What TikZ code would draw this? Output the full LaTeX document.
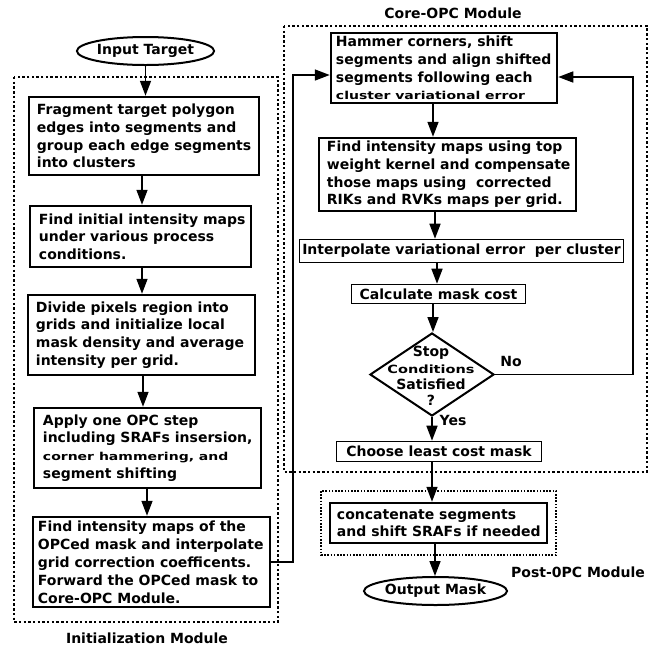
\documentclass[tikz,border=0pt]{standalone}
\usepackage{fontspec}
\setmainfont{DejaVu Sans}
\usepackage{graphicx}
\usetikzlibrary{arrows.meta,shapes.geometric}
\newcommand\bfont{\fontsize{14}{17.7}\selectfont\bfseries}
\newcommand\sqz[1]{\scalebox{1}[0.78]{#1}}
\begin{document}
\begin{tikzpicture}[x=1pt,y=-1pt,
  box/.style={draw, line width=2.5pt, inner sep=0pt},
  tbox/.style={draw, line width=1.6pt, align=center, inner sep=0pt, font=\bfont},
  txt/.style={anchor=west, align=left, inner sep=0pt, font=\bfont},
  ell/.style={draw, ellipse, line width=2pt, inner sep=0pt, font=\bfont},
  lab/.style={inner sep=0pt, font=\bfont},
  arr/.style={line width=1.6pt, -{Triangle[length=15pt,width=11pt]}},
  modbox/.style={line width=2.4pt, dash pattern=on 2.4pt off 2.3pt},
  postbox/.style={line width=1.6pt, dash pattern=on 1.6pt off 1.6pt}]
\useasboundingbox (0,0) rectangle (662,649);

% module frames
\draw[modbox] (14,77) rectangle (278,622);
\draw[modbox] (284,26) rectangle (647,472);
\draw[postbox] (321,491) rectangle (556,555);

% initialization module
\node[ell, minimum width=135pt, minimum height=28pt] (in) at (145.5,51) {Input Target};
\node[box, minimum width=230pt, minimum height=78pt] (b1) at (144,136) {};
\node[txt] (t1) at ([xshift=9pt]b1.west)
  {Fragment target polygon\\edges into segments and\\group each edge segments\\into clusters};
\node[box, minimum width=221pt, minimum height=61pt] (b2) at (140.5,236.5) {};
\node[txt] (t2) at ([xshift=10pt]b2.west)
  {Find initial intensity maps\\under various process\\conditions.};
\node[box, minimum width=227pt, minimum height=80pt] (b3) at (141.5,335) {};
\node[txt] (t3) at ([xshift=9pt]b3.west)
  {Divide pixels region into\\grids and initialize local\\mask density and average\\intensity per grid.};
\node[box, minimum width=227pt, minimum height=80pt] (b4) at (147.5,448) {};
\node[txt] (t4) at ([xshift=10pt]b4.west)
  {Apply one OPC step\\including SRAFs insersion,\\\sqz{corner hammering, and}\\segment shifting};
\node[box, minimum width=237pt, minimum height=90pt] (b5) at (151.5,562) {};
\node[txt, font=\fontsize{14}{17.9}\selectfont\bfseries] (t5) at ([xshift=6pt]b5.west)
  {Find intensity maps of the\\OPCed mask and interpolate\\grid correction coefficents.\\Forward the OPCed mask to\\Core-OPC Module.};

% core module
\node[box, minimum width=226pt, minimum height=70pt] (hm) at (444,68) {};
\node[txt] (th) at ([xshift=6pt]hm.west)
  {Hammer corners, shift\\segments and align shifted\\segments following each\\\sqz{cluster variational error}};
\node[box, minimum width=257pt, minimum height=73pt] (fi) at (447.5,174.5) {};
\node[txt] (tf) at ([xshift=9pt]fi.west)
  {Find intensity maps using top\\weight kernel and compensate\\those maps using\ \ corrected\\RIKs and RVKs maps per grid.};
\node[tbox, minimum width=324pt, minimum height=23pt] (ip) at (461.5,251)
  {Interpolate variational error\ \ per cluster};
\node[tbox, minimum width=174pt, minimum height=19pt] (cm) at (438.5,294) {Calculate mask cost};
\node[draw, diamond, line width=2pt, minimum width=124pt, minimum height=83pt, inner sep=0pt] (dia) at (432,374.5) {};
\node[lab, align=center, font=\fontsize{14}{16.3}\selectfont\bfseries] (dtx) at (431,376)
  {Stop\\\sqz{\fontsize{14.5}{16}\selectfont Conditions}\\Satisfied\\?};
\node[tbox, minimum width=205pt, minimum height=20pt] (ch) at (439,451.5) {Choose least cost mask};

% post module
\node[box, minimum width=217pt, minimum height=40pt] (cc) at (438.5,523) {};
\node[txt, font=\fontsize{14}{17.5}\selectfont\bfseries] (tc) at ([xshift=8pt]cc.west)
  {concatenate segments\\and shift SRAFs if needed};
\node[ell, minimum width=131pt, minimum height=28pt] (out) at (435.5,591) {Output Mask};

% labels
\node[lab] (lcore) at (453,13) {Core-OPC Module};
\node[lab] (linit) at (147,638) {Initialization Module};
\node[lab] (lpost) at (578,572) {Post-0PC Module};
\node[lab] (lno) at (511,361) {No};
\node[lab] (lyes) at (453,420) {Yes};

% connectors
\draw[arr] (in.south) -- (in.south |- b1.north);
\draw[arr] (142,176) coordinate (a1) -- (a1 |- b2.north);
\draw[arr] (142,268) coordinate (a2) -- (a2 |- b3.north);
\draw[arr] (143,376) coordinate (a3) -- (a3 |- b4.north);
\draw[arr] (147,489) coordinate (a4) -- (a4 |- b5.north);

\coordinate (j1) at (293,75);
\draw[arr] (b5.east) -| (j1) -- (j1 -| hm.west);

\draw[arr] (433,104) coordinate (c1) -- (c1 |- fi.north);
\draw[arr] (435,212) coordinate (c2) -- (c2 |- ip.north);
\draw[arr] (437,263) coordinate (c3) -- (c3 |- cm.north);
\draw[arr] (433,304) coordinate (c4) -- (c4 |- dia.north);
\draw[arr] (dia.south) -- (dia.south |- ch.north);

\coordinate (j2) at (633,77);
\draw[arr] (dia.east) -| (j2) -- (j2 -| hm.east);

\draw[arr] (432,462) coordinate (c5) -- (c5 |- cc.north);
\draw[arr] (435,544) coordinate (c6) -- (c6 |- out.north);
\end{tikzpicture}
\end{document}
